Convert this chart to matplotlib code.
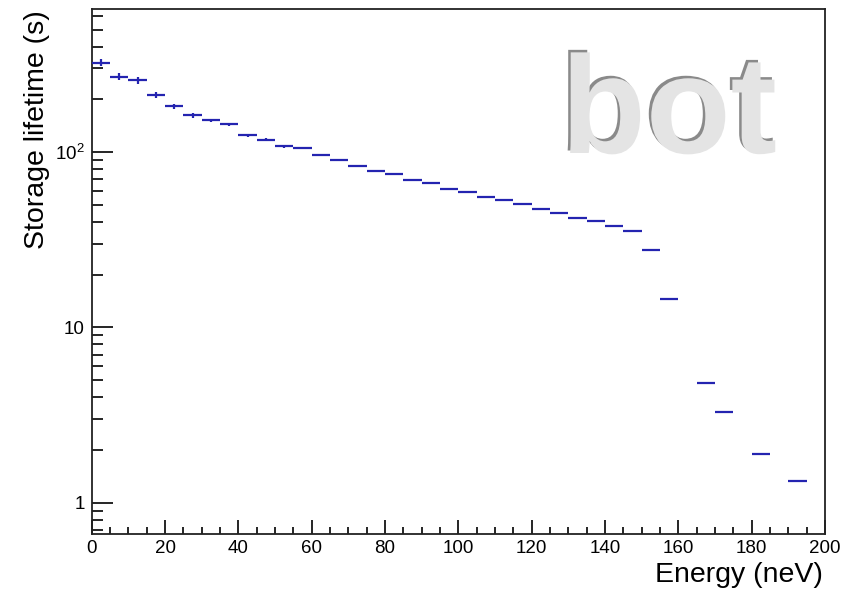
import numpy as np
import matplotlib
matplotlib.use("Agg")
import matplotlib.pyplot as plt
import matplotlib.patheffects as pe
from matplotlib.ticker import FixedLocator, FuncFormatter, MultipleLocator

plt.rcParams['font.family'] = ['Liberation Sans', 'DejaVu Sans']
plt.rcParams['mathtext.fontset'] = 'custom'
plt.rcParams['mathtext.rm'] = 'Liberation Sans'

# Data: bin edges (neV) and storage lifetimes (s)
bin_low = [0, 5, 10, 15, 20, 25, 30, 35, 40, 45, 50, 55, 60, 65, 70, 75, 80, 85, 90, 95,
           100, 105, 110, 115, 120, 125, 130, 135, 140, 145, 150, 155, 165, 170, 180, 190]
bin_width = 5
lifetime = [324, 269, 258, 211, 183, 162, 152, 144, 125, 118, 108, 106, 96.3, 90.5, 83.3, 78.5,
            75.0, 69.3, 66.6, 61.5, 59.0, 55.4, 53.3, 50.4, 47.3, 44.8, 41.9, 40.3, 37.8, 35.6,
            27.5, 14.6, 4.83, 3.27, 1.90, 1.32]
lifetime_err = [16, 12, 12, 8, 6, 5, 3, 3, 2.5, 2, 1.8, 1.6, 1.4, 1.2, 1.1, 1.0,
                0.9, 0.8, 0.7, 0.6, 0.6, 0.5, 0.5, 0.45, 0.4, 0.4, 0.35, 0.35, 0.3, 0.3,
                0.25, 0.12, 0.04, 0.03, 0.02, 0.015]

x_label = "Energy (neV)"
y_label = "Storage lifetime (s)"
watermark = "bot"

W, H = 856, 590
fig = plt.figure(figsize=(W / 100, H / 100), dpi=100)
ax = fig.add_axes([91.7 / W, 1 - 534 / H, (825 - 91.7) / W, (534 - 9.3) / H])

centers = np.array(bin_low, dtype=float) + bin_width / 2
col = '#2424b0'
ax.errorbar(centers, lifetime, xerr=bin_width / 2, yerr=lifetime_err, fmt='none',
            ecolor=col, elinewidth=1.6, capsize=0, zorder=3)

ax.set_yscale('log')
ax.set_xlim(0, 200)
ax.set_ylim(0.662, 653)

ax.xaxis.set_major_locator(MultipleLocator(20))
ax.xaxis.set_minor_locator(MultipleLocator(5))
ax.yaxis.set_major_locator(FixedLocator([1, 10, 100]))
minors = [m * 10.0 ** e for e in range(-1, 3) for m in range(2, 10)]
ax.yaxis.set_minor_locator(FixedLocator(minors))

def yfmt(v, pos):
    if abs(v - 1) < 1e-9:
        return '1'
    if abs(v - 10) < 1e-9:
        return '10'
    if abs(v - 100) < 1e-9:
        return r'$\mathregular{10^{2}}$'
    return ''
ax.yaxis.set_major_formatter(FuncFormatter(yfmt))
ax.yaxis.set_minor_formatter(FuncFormatter(lambda v, p: ''))

ax.tick_params(axis='x', which='major', direction='in', length=10, width=1.2,
               labelsize=13.5, pad=4, top=False)
ax.tick_params(axis='x', which='minor', direction='in', length=5, width=1.2, top=False)
ax.tick_params(axis='y', which='major', direction='in', length=15, width=1.2,
               labelsize=13.5, pad=5, right=False)
ax.tick_params(axis='y', which='minor', direction='in', length=8, width=1.2, right=False)
for s in ax.spines.values():
    s.set_linewidth(1.3)
    s.set_color('#222222')

# axis titles (ROOT style: right / top aligned)
fig.text(823 / W, 1 - 582 / H, x_label, ha='right', va='baseline', fontsize=20.5)
fig.text(36.7 / W, 1 - 10 / H, y_label, ha='center', va='top', rotation=90, fontsize=20.5)

# embossed watermark (single text with a shadow effect)
wx, wy = 561 / W, 1 - 153 / H
fig.text(wx, wy, watermark, ha='left', va='baseline', fontsize=100, fontweight='bold',
         color='#e4e4e4', zorder=1,
         path_effects=[pe.withSimplePatchShadow(offset=(-1.8, 1.8), shadow_rgbFace='#8a8a8a',
                                                alpha=1.0)])

fig.savefig('out.png', dpi=100)
